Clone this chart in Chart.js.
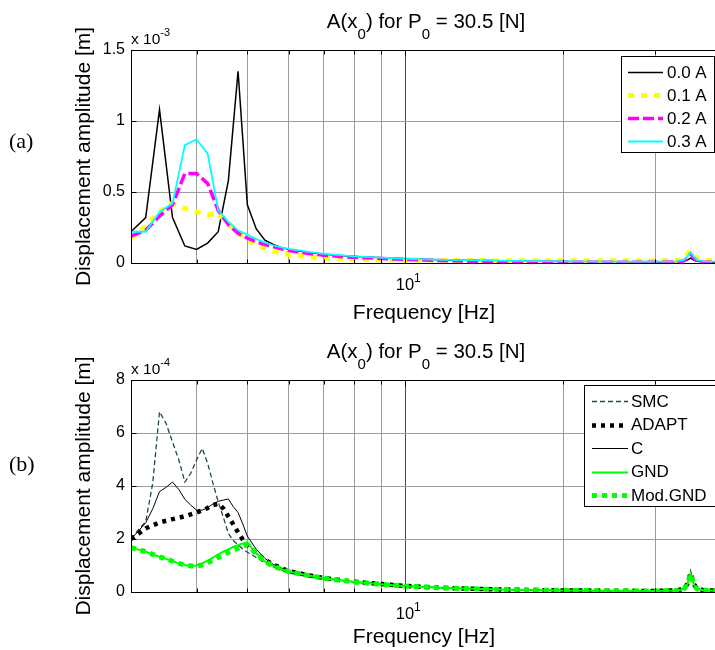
<!DOCTYPE html>
<html>
<head>
<meta charset="utf-8">
<script src="https://cdn.jsdelivr.net/npm/chart.js@4.4.1/dist/chart.umd.min.js"></script>
<style>
  html, body { margin: 0; padding: 0; background: #fff; width: 715px; height: 650px; overflow: hidden; }
  .panel { position: absolute; left: 0; width: 730px; height: 325px; }
  #panelA { top: 0; }
  #panelB { top: 325px; }
</style>
</head>
<body>
<div class="panel" id="panelA"><canvas id="chartA" width="730" height="325"></canvas></div>
<div class="panel" id="panelB"><canvas id="chartB" width="730" height="325"></canvas></div>
<script>
// frequency grid lines drawn on the log axis
const xGrid = [4, 5, 6, 7, 8, 9, 10, 20, 30];

// (a) amplitude in units of 1e-3 m
const freqA = [3.0, 3.2, 3.4, 3.6, 3.8, 4.0, 4.2, 4.4, 4.6, 4.8, 5.0, 5.2, 5.4, 5.6, 5.8, 6.0, 6.5, 7, 7.5, 8, 9, 10, 12, 14, 16, 18, 20, 25, 30, 33, 34, 34.5, 35, 35.5, 36, 37, 40];
const amp00 = [0.22, 0.32, 1.08, 0.32, 0.12, 0.095, 0.14, 0.22, 0.58, 1.35, 0.41, 0.24, 0.16, 0.13, 0.11, 0.095, 0.075, 0.062, 0.053, 0.046, 0.037, 0.03, 0.022, 0.017, 0.014, 0.012, 0.01, 0.008, 0.007, 0.008, 0.012, 0.02, 0.035, 0.02, 0.012, 0.008, 0.006];
const amp01 = [0.175, 0.26, 0.36, 0.42, 0.385, 0.36, 0.34, 0.35, 0.28, 0.21, 0.165, 0.13, 0.105, 0.085, 0.07, 0.06, 0.045, 0.035, 0.03, 0.026, 0.022, 0.02, 0.018, 0.017, 0.016, 0.016, 0.015, 0.015, 0.015, 0.017, 0.03, 0.06, 0.085, 0.06, 0.03, 0.018, 0.015];
const amp02 = [0.19, 0.23, 0.33, 0.41, 0.63, 0.63, 0.56, 0.37, 0.27, 0.21, 0.175, 0.15, 0.13, 0.115, 0.1, 0.088, 0.068, 0.055, 0.046, 0.04, 0.032, 0.025, 0.016, 0.011, 0.008, 0.007, 0.006, 0.005, 0.005, 0.007, 0.015, 0.035, 0.065, 0.035, 0.015, 0.007, 0.005];
const amp03 = [0.22, 0.22, 0.36, 0.42, 0.83, 0.87, 0.77, 0.37, 0.29, 0.23, 0.2, 0.168, 0.145, 0.125, 0.11, 0.1, 0.08, 0.065, 0.055, 0.047, 0.038, 0.03, 0.022, 0.018, 0.015, 0.013, 0.012, 0.01, 0.01, 0.012, 0.022, 0.045, 0.075, 0.045, 0.022, 0.012, 0.01];

// (b) amplitude in units of 1e-4 m
const freqB = [3.0, 3.1, 3.2, 3.3, 3.4, 3.5, 3.6, 3.7, 3.8, 3.9, 4.0, 4.1, 4.2, 4.3, 4.4, 4.5, 4.6, 4.7, 4.8, 4.9, 5.0, 5.2, 5.4, 5.6, 5.8, 6.0, 6.5, 7, 7.5, 8, 9, 10, 12, 14, 16, 18, 20, 25, 30, 33, 34, 34.5, 35, 35.5, 36, 37, 40];
const ampSMC = [2.0, 2.35, 2.65, 4.1, 6.8, 6.36, 5.66, 4.99, 4.15, 4.48, 4.98, 5.42, 4.86, 4.1, 3.4, 2.82, 2.21, 1.94, 1.78, 1.62, 1.5, 1.3, 1.1, 0.95, 0.84, 0.72, 0.6, 0.5, 0.43, 0.37, 0.29, 0.22, 0.15, 0.11, 0.085, 0.07, 0.06, 0.045, 0.04, 0.06, 0.14, 0.32, 0.8, 0.32, 0.14, 0.07, 0.04];
const ampADAPT = [2.0, 2.2, 2.4, 2.52, 2.62, 2.69, 2.75, 2.8, 2.86, 2.93, 3.0, 3.08, 3.17, 3.28, 3.33, 3.15, 2.85, 2.55, 2.25, 1.98, 1.78, 1.45, 1.22, 1.04, 0.9, 0.79, 0.64, 0.53, 0.45, 0.39, 0.3, 0.23, 0.15, 0.11, 0.085, 0.07, 0.06, 0.045, 0.04, 0.06, 0.13, 0.3, 0.72, 0.3, 0.13, 0.07, 0.04];
const ampC = [2.0, 2.3, 2.61, 3.14, 3.79, 3.95, 4.15, 3.87, 3.5, 3.28, 3.09, 3.09, 3.19, 3.32, 3.42, 3.47, 3.51, 3.22, 3.0, 2.57, 2.11, 1.61, 1.27, 1.04, 0.91, 0.8, 0.64, 0.53, 0.45, 0.39, 0.3, 0.23, 0.15, 0.11, 0.085, 0.07, 0.06, 0.045, 0.04, 0.06, 0.13, 0.3, 0.72, 0.3, 0.13, 0.07, 0.04];
const ampGND = [1.67, 1.6, 1.52, 1.42, 1.33, 1.25, 1.16, 1.08, 1.02, 0.98, 1.0, 1.08, 1.18, 1.3, 1.42, 1.52, 1.61, 1.7, 1.77, 1.83, 1.87, 1.45, 1.15, 0.98, 0.86, 0.77, 0.63, 0.52, 0.44, 0.38, 0.29, 0.22, 0.15, 0.11, 0.085, 0.07, 0.06, 0.045, 0.04, 0.06, 0.12, 0.28, 0.68, 0.28, 0.12, 0.07, 0.04];
const ampModGND = [1.67, 1.6, 1.52, 1.42, 1.33, 1.25, 1.16, 1.08, 1.02, 0.98, 0.98, 1.02, 1.1, 1.2, 1.3, 1.4, 1.5, 1.58, 1.65, 1.72, 1.78, 1.45, 1.15, 0.98, 0.86, 0.77, 0.63, 0.52, 0.44, 0.38, 0.29, 0.22, 0.15, 0.11, 0.085, 0.07, 0.06, 0.045, 0.04, 0.06, 0.12, 0.28, 0.68, 0.28, 0.12, 0.07, 0.04];

const FONT = '"Liberation Sans", Arial, Helvetica, sans-serif';

function points(xs, ys) {
    return xs.map((x, i) => ({ x, y: ys[i] }));
}

// text with sub/superscript pieces: [[text, ''|'sub'|'sup'], ...]
function drawRich(ctx, parts, x, y, size, align) {
    let total = 0;
    const pieces = parts.map(([t, k]) => {
        const s = k ? Math.round(size * 0.72) : size;
        ctx.font = s + 'px ' + FONT;
        const w = ctx.measureText(t).width;
        total += w;
        return { t, k, s, w };
    });
    let cx = align === 'center' ? x - total / 2 : x;
    ctx.textAlign = 'left';
    ctx.textBaseline = 'alphabetic';
    pieces.forEach((p) => {
        ctx.font = p.s + 'px ' + FONT;
        const dy = p.k === 'sub' ? size * 0.55 : p.k === 'sup' ? -size * 0.5 : 0;
        ctx.fillText(p.t, cx, y + dy);
        cx += p.w;
    });
}

const decor = {
    id: 'decor',
    afterDraw(chart, args, opts) {
        const { ctx, chartArea: a } = chart;
        const xs = chart.scales.x;
        const ys = chart.scales.y;
        const midX = (a.left + a.right) / 2;
        ctx.save();
        ctx.fillStyle = '#000';
        ctx.strokeStyle = '#000';
        ctx.lineWidth = 1;
        ctx.setLineDash([]);

        // axes box and inward ticks
        const L = Math.round(a.left) + 0.5, T = Math.round(a.top) + 0.5;
        const R = Math.round(a.right) + 0.5, B = Math.round(a.bottom) + 0.5;
        ctx.strokeRect(L, T, R - L, B - T);
        ctx.beginPath();
        xGrid.forEach((v) => {
            const px = Math.round(xs.getPixelForValue(v)) + 0.5;
            const len = v === 10 ? 6 : 4;
            ctx.moveTo(px, B); ctx.lineTo(px, B - len);
            ctx.moveTo(px, T); ctx.lineTo(px, T + len);
        });
        ys.ticks.forEach((t) => {
            const py = Math.round(ys.getPixelForValue(t.value)) + 0.5;
            ctx.moveTo(L, py); ctx.lineTo(L + 5, py);
            ctx.moveTo(R, py); ctx.lineTo(R - 5, py);
        });
        ctx.stroke();

        // title
        drawRich(ctx, opts.title, midX, a.top - 22, 20.5, 'center');
        // exponent note above y axis
        drawRich(ctx, [['x 10', ''], [opts.exp, 'sup']], a.left, a.top - 6, 15.5, 'left');
        // x tick label 10^1
        const p10 = xs.getPixelForValue(10);
        drawRich(ctx, [['10', ''], ['1', 'sup']], p10 + 3, a.bottom + 27, 16.5, 'center');
        // x axis title
        ctx.font = '21px ' + FONT;
        ctx.textAlign = 'center';
        ctx.textBaseline = 'alphabetic';
        ctx.fillText('Frequency [Hz]', midX - 2, a.bottom + opts.xTitleGap);
        // y axis title
        ctx.save();
        ctx.translate(90, (a.top + a.bottom) / 2);
        ctx.rotate(-Math.PI / 2);
        ctx.textAlign = 'center';
        ctx.textBaseline = 'alphabetic';
        ctx.font = '21px ' + FONT;
        ctx.fillText('Displacement amplitude [m]', 0, 0);
        ctx.restore();
        // panel letter
        ctx.font = '22px "Liberation Serif", "Times New Roman", serif';
        ctx.textAlign = 'left';
        ctx.textBaseline = 'middle';
        ctx.fillText(opts.panel, 9, opts.panelY);

        // legend
        const lg = opts.legend;
        ctx.fillStyle = '#fff';
        ctx.fillRect(lg.x, lg.y, lg.w, lg.h);
        ctx.strokeStyle = '#000';
        ctx.lineWidth = 1;
        ctx.strokeRect(lg.x + 0.5, lg.y + 0.5, lg.w, lg.h);
        chart.data.datasets.forEach((ds, i) => {
            const ry = lg.y + lg.first + i * lg.row;
            ctx.save();
            ctx.strokeStyle = ds.borderColor;
            ctx.lineWidth = ds.borderWidth;
            ctx.setLineDash(ds.borderDash || []);
            ctx.beginPath();
            ctx.moveTo(lg.x + lg.lx0, Math.round(ry) + 0.5);
            ctx.lineTo(lg.x + lg.lx1, Math.round(ry) + 0.5);
            ctx.stroke();
            ctx.restore();
            ctx.fillStyle = '#000';
            ctx.font = '17px ' + FONT;
            ctx.textAlign = 'left';
            ctx.textBaseline = 'middle';
            ctx.fillText(ds.label, lg.x + lg.tx, ry + 1);
        });
        ctx.restore();
    }
};

function makeChart(id, datasets, yMax, yStep, padTop, xHeight, decorOpts) {
    return new Chart(document.getElementById(id), {
        type: 'line',
        data: { datasets },
        options: {
            responsive: false,
            animation: false,
            events: [],
            devicePixelRatio: 1,
            layout: { padding: { top: padTop, right: 9, left: 0, bottom: 0 } },
            elements: { point: { radius: 0 }, line: { tension: 0 } },
            plugins: {
                legend: { display: false },
                tooltip: { enabled: false },
                decor: decorOpts
            },
            scales: {
                x: {
                    type: 'logarithmic',
                    min: 3,
                    max: 40,
                    afterBuildTicks: (s) => { s.ticks = xGrid.map((v) => ({ value: v })); },
                    afterFit: (s) => { s.height = xHeight; },
                    ticks: { display: false },
                    border: { display: false },
                    grid: {
                        drawTicks: false,
                        color: (c) => (c.tick && c.tick.value === 10 ? '#4a4a4a' : '#9c9c9c'),
                        lineWidth: 1
                    }
                },
                y: {
                    min: 0,
                    max: yMax,
                    afterFit: (s) => { s.width = 131; },
                    ticks: {
                        stepSize: yStep,
                        color: '#000',
                        padding: 6,
                        font: { size: 16, family: FONT },
                        callback: (v) => String(v)
                    },
                    border: { display: false },
                    grid: { drawTicks: false, color: '#9c9c9c', lineWidth: 1 }
                }
            }
        },
        plugins: [decor]
    });
}

const titleParts = [['A(x', ''], ['0', 'sub'], [') for P', ''], ['0', 'sub'], [' = 30.5 [N]', '']];

makeChart('chartA', [
    { label: '0.0 A', data: points(freqA, amp00), borderColor: '#000000', borderWidth: 1.5, order: 4 },
    { label: '0.1 A', data: points(freqA, amp01), borderColor: '#ffff00', borderWidth: 5, borderDash: [6, 7], order: 3 },
    { label: '0.2 A', data: points(freqA, amp02), borderColor: '#ff00ff', borderWidth: 3.5, borderDash: [11, 4], order: 2 },
    { label: '0.3 A', data: points(freqA, amp03), borderColor: '#00ffff', borderWidth: 1.8, order: 1 }
], 1.5, 0.5, 50, 62, {
    title: titleParts, exp: '-3', panel: '(a)', panelY: 142, xTitleGap: 56,
    legend: { x: 621, y: 56, w: 93, h: 96, first: 16, row: 23, lx0: 7, lx1: 42, tx: 46 }
});

makeChart('chartB', [
    { label: 'SMC', data: points(freqB, ampSMC), borderColor: '#1e4d3c', borderWidth: 1.3, borderDash: [5, 3], order: 5 },
    { label: 'ADAPT', data: points(freqB, ampADAPT), borderColor: '#000000', borderWidth: 4.5, borderDash: [4, 5], order: 4 },
    { label: 'C', data: points(freqB, ampC), borderColor: '#000000', borderWidth: 1, order: 3 },
    { label: 'GND', data: points(freqB, ampGND), borderColor: '#00ff00', borderWidth: 2, order: 2 },
    { label: 'Mod.GND', data: points(freqB, ampModGND), borderColor: '#00ff00', borderWidth: 5, borderDash: [5, 5], order: 1 }
], 8, 2, 55, 58, {
    title: titleParts, exp: '-4', panel: '(b)', panelY: 140, xTitleGap: 51,
    legend: { x: 584, y: 60, w: 150, h: 121, first: 16, row: 23.5, lx0: 8, lx1: 44, tx: 47 }
});
</script>
</body>
</html>
